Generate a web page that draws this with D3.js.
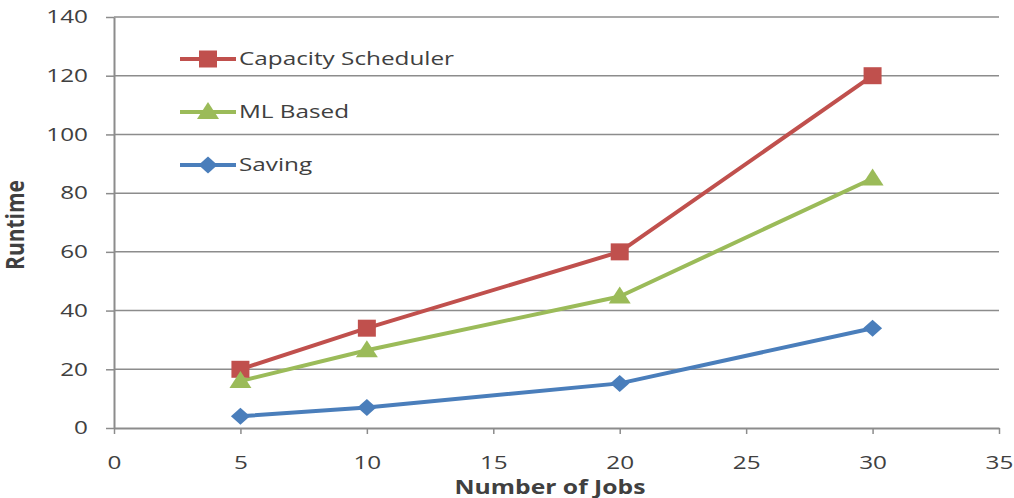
<!DOCTYPE html>
<html>
<head>
<meta charset="utf-8">
<script src="https://cdn.jsdelivr.net/npm/d3@7"></script>
<style>
  body { margin: 0; background: #fff; }
  text { font-family: "Open Sans", sans-serif; fill: #404040; }
</style>
</head>
<body>
<svg id="chart"></svg>
<script>
// data
var jobs = [5, 10, 20, 30];
var capacity = [20, 34, 60, 120];
var mlBased = [16, 26.5, 44.8, 85];
var saving = [4, 7, 15.2, 34];
var xTicks = [0, 5, 10, 15, 20, 25, 30, 35];
var yTicks = [0, 20, 40, 60, 80, 100, 120, 140];

var series = [
  { name: "Capacity Scheduler", values: capacity, color: "#c0504d", marker: "square" },
  { name: "ML Based", values: mlBased, color: "#9bbb59", marker: "triangle" },
  { name: "Saving", values: saving, color: "#4a7ebb", marker: "diamond" }
];

var svgWidth = 1014, svgHeight = 498;
var margin = { top: 17, right: 15, bottom: 70, left: 114 };
var stretch = 1.35; // the original text looks widened

var svg = d3.select("#chart")
  .attr("width", svgWidth)
  .attr("height", svgHeight);

var x = d3.scaleLinear().domain([0, 35]).range([margin.left, 999]);
var y = d3.scaleLinear().domain([0, 140]).range([428, margin.top]);

// gridlines
svg.append("g")
  .selectAll("line")
  .data(yTicks.filter(d => d > 0))
  .enter()
  .append("line")
  .attr("x1", x(0)).attr("x2", x(35))
  .attr("y1", d => y(d)).attr("y2", d => y(d))
  .attr("stroke", "#8c8c8c")
  .attr("stroke-width", 1.5);

// y axis
var yAxis = svg.append("g")
  .attr("transform", `translate(${x(0)},0)`)
  .call(d3.axisLeft(y).tickValues(yTicks).tickSize(8).tickSizeOuter(0));

// x axis
var xAxis = svg.append("g")
  .attr("transform", `translate(0,${y(0)})`)
  .call(d3.axisBottom(x).tickValues(xTicks).tickSize(6).tickSizeOuter(0));

[yAxis, xAxis].forEach(function(a) {
  a.select(".domain").attr("stroke", "#8c8c8c").attr("stroke-width", 2);
  a.selectAll(".tick line").attr("stroke", "#8c8c8c").attr("stroke-width", 1.5);
  a.selectAll(".tick text")
    .style("font-family", "'Open Sans', sans-serif")
    .style("font-size", "18px")
    .attr("fill", "#404040");
});
yAxis.selectAll(".tick text")
  .attr("x", 0)
  .attr("transform", `translate(-26,0) scale(${stretch},1)`);
xAxis.selectAll(".tick text")
  .attr("y", 0)
  .attr("dy", "0.35em")
  .attr("transform", `translate(0,35) scale(${stretch},1)`);

// lines
var line = d3.line()
  .x((d, i) => x(jobs[i]))
  .y(d => y(d));

svg.append("g")
  .selectAll("path")
  .data(series)
  .enter()
  .append("path")
  .attr("d", d => line(d.values))
  .attr("fill", "none")
  .attr("stroke", d => d.color)
  .attr("stroke-width", 4)
  .attr("stroke-linejoin", "round");

// marker shapes, a bit wider than tall like the original
function markerPath(kind) {
  var p = d3.path();
  if (kind === "square") {
    p.rect(-9, -8.5, 18, 17);
  } else if (kind === "triangle") {
    p.moveTo(0, -10); p.lineTo(11, 7); p.lineTo(-11, 7); p.closePath();
  } else {
    p.moveTo(0, -8.5); p.lineTo(9.5, 0); p.lineTo(0, 8.5); p.lineTo(-9.5, 0); p.closePath();
  }
  return p.toString();
}

series.forEach(function(s) {
  svg.append("g")
    .selectAll("path")
    .data(s.values)
    .enter()
    .append("path")
    .attr("transform", (d, i) => `translate(${x(jobs[i])},${y(d)})`)
    .attr("d", markerPath(s.marker))
    .attr("fill", s.color);
});

// legend
var legend = svg.append("g")
  .selectAll("g")
  .data(series)
  .enter()
  .append("g")
  .attr("transform", (d, i) => `translate(180,${59 + i * 53})`);

legend.append("line")
  .attr("x1", 0).attr("x2", 56)
  .attr("stroke", d => d.color)
  .attr("stroke-width", 4);

legend.append("path")
  .attr("transform", "translate(28,0)")
  .attr("d", d => markerPath(d.marker))
  .attr("fill", d => d.color);

legend.append("text")
  .attr("transform", `translate(59,0) scale(${stretch},1)`)
  .attr("dy", "0.35em")
  .style("font-size", "18px")
  .text(d => d.name);

// axis titles
svg.append("text")
  .attr("transform", "translate(16,225) rotate(-90) scale(1,1.15)")
  .attr("text-anchor", "middle")
  .attr("dy", "0.35em")
  .style("font-size", "21px")
  .style("font-weight", "bold")
  .attr("fill", "#262626")
  .text("Runtime");

svg.append("text")
  .attr("transform", "translate(550,487) scale(1.3,1)")
  .attr("text-anchor", "middle")
  .attr("dy", "0.35em")
  .style("font-size", "19px")
  .style("font-weight", "bold")
  .attr("fill", "#262626")
  .text("Number of Jobs");
</script>
</body>
</html>
